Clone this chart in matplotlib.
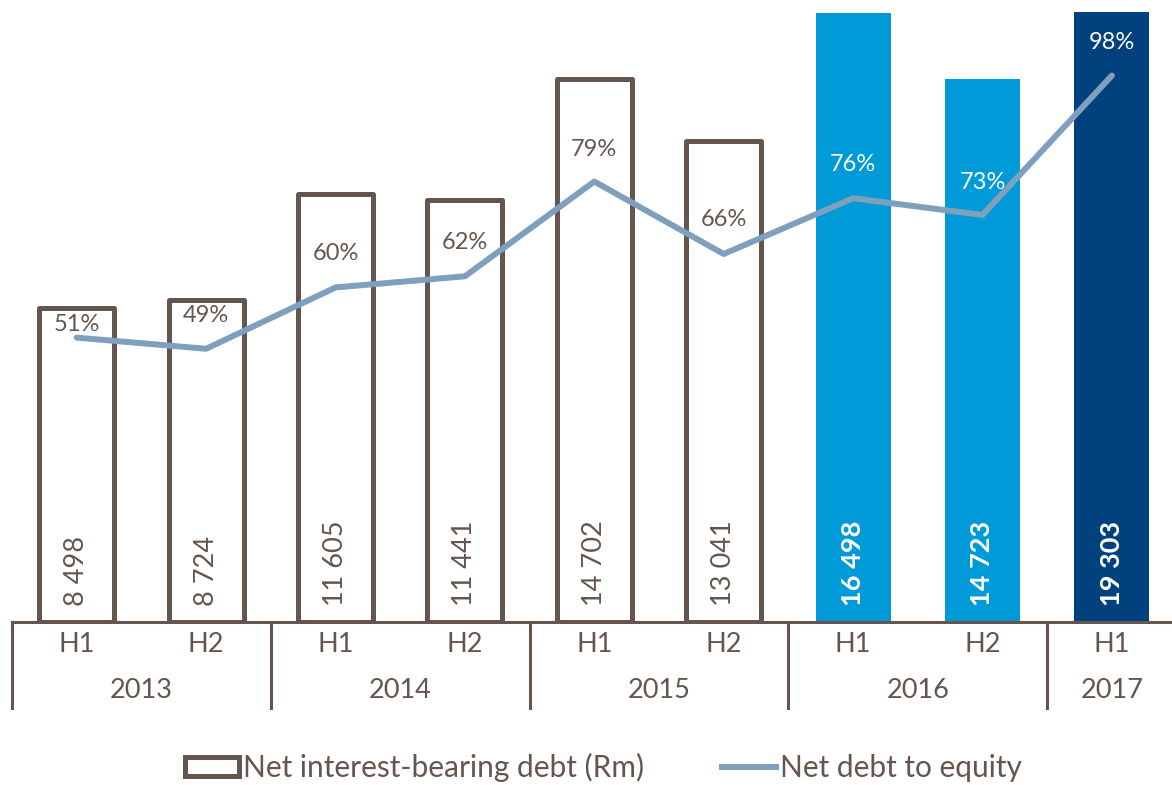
import numpy as np
import matplotlib.pyplot as plt
from matplotlib.transforms import blended_transform_factory
from matplotlib.patches import Patch
from matplotlib.lines import Line2D

plt.rcParams['font.family'] = ['Lato', 'DejaVu Sans']

# data
halves = ['H1', 'H2', 'H1', 'H2', 'H1', 'H2', 'H1', 'H2', 'H1']
years = ['2013', '2014', '2015', '2016', '2017']
year_sizes = [2, 2, 2, 2, 1]
debt = [8498, 8724, 11605, 11441, 14702, 13041, 16498, 14723, 19303]
gearing = [51, 49, 60, 62, 79, 66, 76, 73, 98]

BROWN = '#65554e'
LIGHT = '#009ad9'
DARK = '#00417e'
LINE = '#7f9fbf'

fill_colors = ['white'] * 6 + [LIGHT, LIGHT, DARK]
edge_colors = [BROWN] * 6 + ['none', 'none', 'none']
value_colors = [BROWN] * 6 + ['white'] * 3
value_weights = ['normal'] * 6 + ['bold'] * 3
pct_colors = [BROWN] * 6 + ['white'] * 3
pct_offsets = [13, 33, 34, 34, 32, 34, 34, 32, 33]  # px above point

fig = plt.figure(figsize=(11.72, 7.85), dpi=100)
ax = fig.add_axes([12 / 1172, 163 / 785, 1164.6 / 1172, 610 / 785])
x = np.arange(len(debt))

bars = ax.bar(x, debt, width=0.58, color=fill_colors, edgecolor=edge_colors,
              linewidth=3.6, zorder=2)
for b in bars:
    b.set_joinstyle('round')
ax.set_xlim(-0.5, len(debt) - 0.5)
ax.set_ylim(0, 16530)

for i, v in enumerate(debt):
    ax.annotate(f'{v:,}'.replace(',', ' '), (x[i], 0), xytext=(0, 16),
                textcoords='offset pixels', rotation=90, ha='center', va='bottom',
                fontsize=19.5, color=value_colors[i], fontweight=value_weights[i],
                zorder=5)

ax2 = ax.twinx()
ax2.plot(x, gearing, color=LINE, linewidth=4.3, solid_capstyle='round', zorder=3)
ax2.set_ylim(0, 109.4)
for i, g in enumerate(gearing):
    ax2.annotate(f'{g}%', (x[i], g), xytext=(0, pct_offsets[i]),
                 textcoords='offset pixels', ha='center', va='center',
                 fontsize=17, color=pct_colors[i])

for a in (ax, ax2):
    for s in a.spines.values():
        s.set_visible(False)
    a.set_yticks([])
    a.set_xticks([])
ax.spines['bottom'].set_visible(True)
ax.spines['bottom'].set_color(BROWN)
ax.spines['bottom'].set_linewidth(2.2)

# two-level category axis
trans = blended_transform_factory(ax.transData, fig.transFigure)
for i, h in enumerate(halves):
    ax.text(x[i], 1 - 645 / 785, h, transform=trans, ha='center', va='center',
            fontsize=19.5, color=BROWN)
start = 0
edges = [-0.5]
for yr, n in zip(years, year_sizes):
    mid = start + (n - 1) / 2
    ax.text(mid, 1 - 690 / 785, yr, transform=trans, ha='center', va='center',
            fontsize=19.5, color=BROWN)
    start += n
    edges.append(start - 0.5)
for e in edges[:-1]:
    ax.add_line(Line2D([e, e], [1 - 622 / 785, 1 - 708 / 785], transform=trans,
                       color=BROWN, linewidth=2.2, clip_on=False))

handles = [Patch(facecolor='white', edgecolor=BROWN, linewidth=3.6),
           Line2D([0], [0], color=LINE, linewidth=4.3)]
fig.legend(handles, ['Net interest-bearing debt (Rm)', 'Net debt to equity'],
           loc='center', bbox_to_anchor=(0.515, 1 - 767 / 785), ncol=2,
           frameon=False, fontsize=21.5, labelcolor=BROWN, handlelength=1.8,
           handleheight=0.6, handletextpad=0.15, columnspacing=2.6)

plt.savefig('out.png', dpi=100)
